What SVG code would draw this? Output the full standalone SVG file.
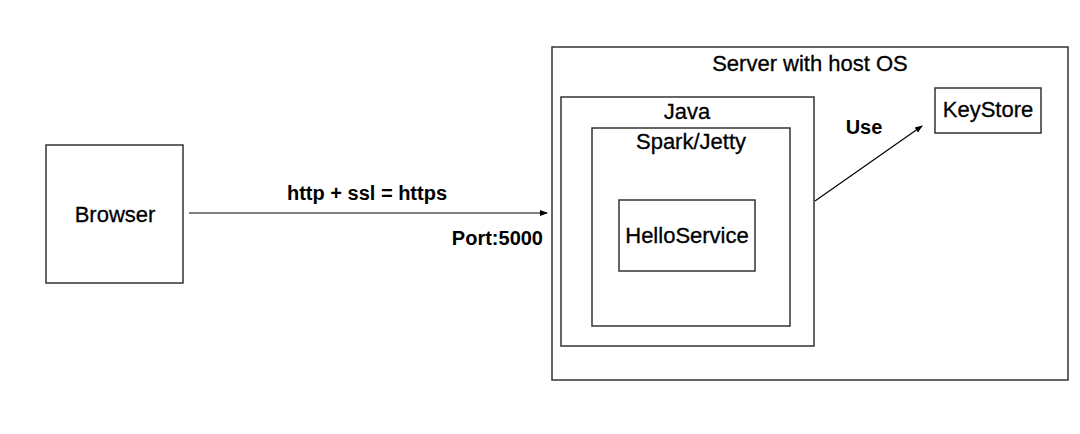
<svg xmlns="http://www.w3.org/2000/svg" width="1080" height="434" viewBox="0 0 1080 434">
<style>
.box{fill:none;stroke:#333;stroke-width:1.5}
.t{font-family:"Liberation Sans",Arial,sans-serif;font-size:22px;fill:#000;stroke:#000;stroke-width:0.3;text-anchor:middle}
.b{font-family:"Liberation Sans",Arial,sans-serif;font-size:20px;font-weight:bold;fill:#000}
.c{stroke:#000;stroke-width:1.2;fill:none}
</style>
<defs>
<marker id="ah" markerWidth="8" markerHeight="8" refX="7" refY="4" orient="auto" markerUnits="userSpaceOnUse">
<path d="M0,1 L8,4 L0,7 Z" fill="#000"/>
</marker>
</defs>
<rect width="1080" height="434" fill="#fff"/>
<g id="server"><rect class="box" x="552" y="47" width="516" height="333"/><text class="t" x="810" y="71">Server with host OS</text></g>
<g id="java"><rect class="box" x="561" y="97" width="253" height="249"/><text class="t" x="687" y="119">Java</text></g>
<g id="spark"><rect class="box" x="592" y="128" width="198" height="198"/><text class="t" x="691" y="149">Spark/Jetty</text></g>
<g id="hello"><rect class="box" x="619" y="200" width="136" height="71"/><text class="t" x="687" y="243">HelloService</text></g>
<g id="keystore"><rect class="box" x="935" y="88" width="106" height="45"/><text class="t" x="988" y="117">KeyStore</text></g>
<g id="browser"><rect class="box" x="46" y="145" width="137" height="138"/><text class="t" x="115" y="222">Browser</text></g>
<g id="connectors">
<line class="c" x1="189" y1="213" x2="547" y2="213" marker-end="url(#ah)"/>
<text class="b" x="367" y="200" text-anchor="middle">http + ssl = https</text>
<text class="b" x="543" y="245" text-anchor="end">Port:5000</text>
<line class="c" x1="815" y1="201" x2="922" y2="126" marker-end="url(#ah)"/>
<text class="b" x="864" y="134" text-anchor="middle">Use</text>
</g>
</svg>
